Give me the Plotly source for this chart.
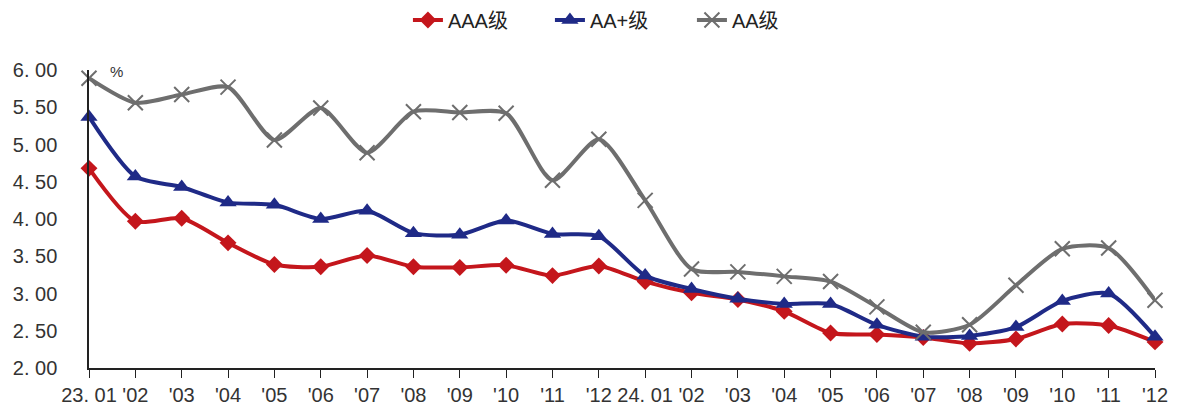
import plotly.graph_objects as go

months = ["23.01","23.02","23.03","23.04","23.05","23.06","23.07","23.08","23.09","23.10","23.11","23.12",
          "24.01","24.02","24.03","24.04","24.05","24.06","24.07","24.08","24.09","24.10","24.11","24.12"]
tick_labels = ["23. 01","'02","'03","'04","'05","'06","'07","'08","'09","'10","'11","'12",
               "24. 01","'02","'03","'04","'05","'06","'07","'08","'09","'10","'11","'12"]

aaa = [4.68, 3.97, 4.01, 3.68, 3.39, 3.36, 3.51, 3.36, 3.35, 3.38, 3.24, 3.37,
       3.16, 3.01, 2.92, 2.76, 2.47, 2.45, 2.41, 2.33, 2.39, 2.59, 2.57, 2.35]
aa_plus = [5.37, 4.57, 4.43, 4.22, 4.19, 4.00, 4.11, 3.81, 3.79, 3.98, 3.80, 3.77,
           3.24, 3.06, 2.93, 2.86, 2.86, 2.58, 2.42, 2.43, 2.55, 2.90, 3.00, 2.42]
aa = [5.89, 5.56, 5.67, 5.77, 5.06, 5.49, 4.89, 5.44, 5.43, 5.42, 4.52, 5.07,
      4.25, 3.33, 3.29, 3.23, 3.16, 2.82, 2.48, 2.58, 3.11, 3.60, 3.61, 2.91]

y_ticks = [2.0, 2.5, 3.0, 3.5, 4.0, 4.5, 5.0, 5.5, 6.0]
y_tick_text = ["2. 00", "2. 50", "3. 00", "3. 50", "4. 00", "4. 50", "5. 00", "5. 50", "6. 00"]

series = [
    ("AAA级", aaa, "#C4161C", dict(symbol="diamond", size=13)),
    ("AA+级", aa_plus, "#1F2A87", dict(symbol="triangle-up", size=15)),
    ("AA级", aa, "#6E6E6E", dict(symbol="x-thin", size=15, line=dict(width=2, color="#6E6E6E"))),
]

fig = go.Figure()
for name, vals, color, mk in series:
    marker = dict(color=color, **mk)
    fig.add_trace(go.Scatter(
        x=months, y=vals, name=name, mode="lines+markers",
        line=dict(color=color, width=4, shape="spline", smoothing=0.7),
        marker=marker, cliponaxis=False,
    ))

font_family = "Liberation Sans, Arial, Noto Sans CJK SC"
# page body has an 8px margin, so the figure is sized/margined to compensate
fig.update_layout(
    width=1171, height=399,
    margin=dict(l=81, r=24, t=62, b=39),
    paper_bgcolor="white", plot_bgcolor="white",
    font=dict(family=font_family, size=20, color="#333333"),
    showlegend=True,
    legend=dict(orientation="h", x=0.499, xanchor="center", y=0.97, yanchor="middle",
                yref="container", font=dict(size=20, color="#222222",
                family="Liberation Sans, Noto Sans CJK SC"),
                entrywidth=97, entrywidthmode="pixels", tracegroupgap=0),
    xaxis=dict(type="category", range=[0, 23], tickmode="array", tickvals=months,
               ticktext=tick_labels, showgrid=False, showline=True, linecolor="#222222",
               linewidth=1.5, ticks="outside", ticklen=8, tickcolor="#222222",
               tickfont=dict(size=20, color="#333333"), zeroline=False, automargin=False),
    yaxis=dict(range=[2, 6], tickmode="array", tickvals=y_ticks, ticktext=y_tick_text,
               showgrid=False, showline=True, linecolor="#222222", linewidth=1.5,
               ticks="", tickfont=dict(size=20, color="#333333"), zeroline=False,
               ticklabelstandoff=26, automargin=False),
)
fig.add_annotation(text="%", xref="paper", yref="paper", x=0.018, y=0.995,
                   xanchor="left", yanchor="middle", showarrow=False,
                   font=dict(size=15, color="#333333"))

fig.write_html("out.html")
